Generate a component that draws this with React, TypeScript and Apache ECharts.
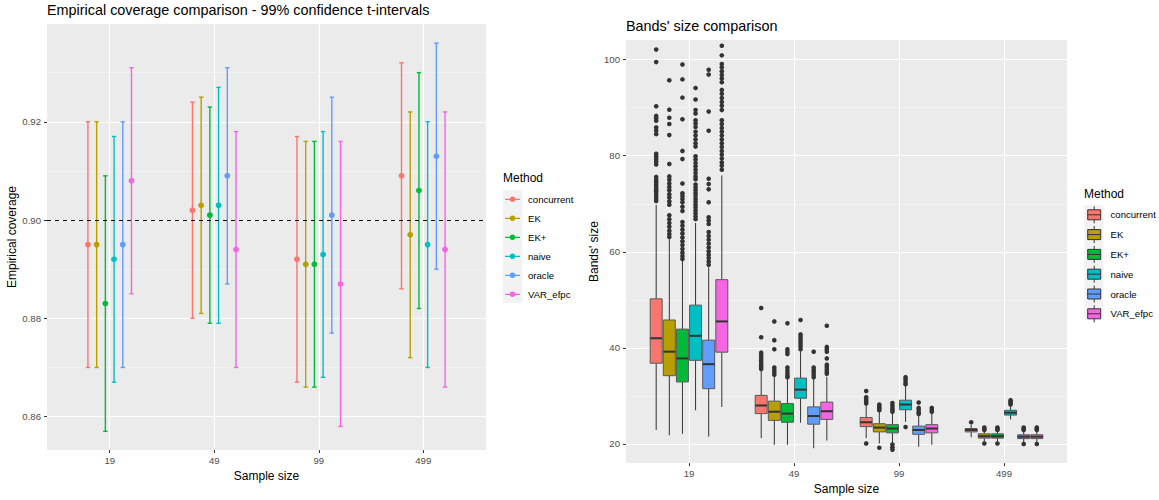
import React, { useEffect, useRef } from "react";
import * as echarts from "echarts";

// ---------- data ----------
const sampleSizes = ["19", "49", "99", "499"];
const methods = ["concurrent", "EK", "EK+", "naive", "oracle", "VAR_efpc"];
const methodColors = ["#F8766D", "#B79F00", "#00BA38", "#00BFC4", "#619CFF", "#F564E3"];

// empirical coverage (rows: methods, cols: sample sizes)
const coverageEstimate = [
  [0.895, 0.902, 0.892, 0.909],
  [0.895, 0.903, 0.891, 0.897],
  [0.883, 0.901, 0.891, 0.906],
  [0.892, 0.903, 0.893, 0.895],
  [0.895, 0.909, 0.901, 0.913],
  [0.908, 0.894, 0.887, 0.894],
];
const coverageLower = [
  [0.87, 0.88, 0.867, 0.886],
  [0.87, 0.881, 0.866, 0.872],
  [0.857, 0.879, 0.866, 0.882],
  [0.867, 0.879, 0.868, 0.87],
  [0.87, 0.887, 0.877, 0.89],
  [0.885, 0.87, 0.858, 0.866],
];
const coverageUpper = [
  [0.92, 0.924, 0.917, 0.932],
  [0.92, 0.925, 0.916, 0.922],
  [0.909, 0.923, 0.916, 0.93],
  [0.917, 0.927, 0.918, 0.92],
  [0.92, 0.931, 0.925, 0.936],
  [0.931, 0.918, 0.916, 0.922],
];
const nominalCoverage = 0.9;
const coverageTicks = [0.86, 0.88, 0.9, 0.92];
const coverageMinorTicks = [0.87, 0.89, 0.91, 0.93];

// bands' size box statistics [min, q1, median, q3, max]
const bandBoxStats = [
  [[22.9, 36.8, 42.0, 50.2, 69.8], [21.2, 26.3, 28.0, 30.1, 35.2], [21.2, 23.6, 24.5, 25.5, 28.0], [21.4, 22.5, 22.9, 23.2, 24.0]],
  [[21.8, 34.2, 39.2, 45.8, 62.6], [19.8, 24.9, 26.7, 28.9, 34.0], [20.1, 22.5, 23.4, 24.2, 26.7], [20.5, 21.2, 21.6, 22.1, 22.7]],
  [[22.1, 32.9, 37.8, 43.9, 58.3], [19.8, 24.5, 26.3, 28.4, 33.5], [20.3, 22.3, 23.2, 24.0, 26.4], [20.5, 21.2, 21.6, 22.1, 22.7]],
  [[27.0, 37.4, 42.5, 48.9, 66.0], [24.4, 29.5, 31.3, 33.7, 39.3], [24.6, 27.1, 28.2, 29.1, 32.0], [25.1, 26.0, 26.5, 27.0, 28.0]],
  [[21.5, 31.5, 36.6, 41.6, 56.8], [19.1, 24.1, 25.8, 27.7, 33.5], [19.4, 22.0, 22.9, 23.7, 26.0], [20.4, 21.1, 21.5, 21.9, 22.7]],
  [[27.7, 39.1, 45.5, 54.2, 75.9], [20.7, 25.1, 26.8, 28.7, 34.0], [19.8, 22.3, 23.2, 24.0, 26.4], [20.4, 21.1, 21.5, 21.9, 22.7]],
];
const bandOutliers = [
  [
    [102.1, 99.5, 90.3, 88.3, 87.8, 87.3, 85.9, 85.2, 84.5, 80.4, 79.9, 79.3, 78.8, 78.2, 75.6, 75.0, 74.5, 74.0, 73.5, 73.0, 72.6, 72.1, 71.6, 71.1, 70.6],
    [48.3, 42.2, 39.0, 38.4, 37.9, 37.4, 36.9, 36.4, 36.0, 35.6],
    [31.0, 29.7, 29.2, 28.8, 28.4, 20.1],
    [24.5],
  ],
  [
    [95.7, 89.6, 87.9, 86.6, 84.3, 78.3, 75.7, 75.0, 74.2, 73.5, 72.8, 72.0, 71.3, 70.5, 69.8, 67.6, 66.8, 66.0, 65.2, 64.4, 63.7, 63.1],
    [45.5, 41.6, 39.7, 35.9, 35.4, 34.9, 34.4],
    [28.2, 27.8, 27.4, 27.0, 19.2],
    [23.4, 23.1, 22.9, 20.1],
  ],
  [
    [99.0, 95.9, 92.1, 87.6, 81.0, 79.3, 74.2, 72.2, 71.6, 71.0, 70.3, 69.4, 68.5, 66.2, 65.4, 64.6, 63.8, 63.0, 62.2, 61.4, 60.6, 59.8, 59.1, 58.5],
    [45.1, 39.7, 39.2, 38.7, 35.9, 35.3, 34.7, 34.2, 33.9],
    [28.5, 28.0, 27.5, 27.1, 26.7, 19.9, 19.3, 18.8],
    [23.4, 23.1, 22.9, 20.1],
  ],
  [
    [94.1, 91.7, 89.5, 88.8, 87.4, 86.7, 86.0, 85.0, 84.2, 83.4, 82.6, 81.9, 79.9, 79.2, 78.5, 77.8, 77.1, 76.4, 75.7, 75.1, 74.0, 73.4, 72.8, 72.2, 71.6, 71.0, 70.4, 69.8, 69.2, 68.6, 68.0, 67.4, 66.8],
    [45.8, 42.8, 42.3, 41.8, 41.3, 40.8, 40.3, 39.7],
    [33.9, 33.4, 32.9, 32.4, 23.5],
    [29.1, 28.8, 28.5, 28.2],
  ],
  [
    [97.9, 96.9, 89.2, 85.2, 75.2, 74.1, 73.0, 70.3, 67.2, 66.5, 65.8, 64.1, 63.3, 62.5, 61.7, 60.9, 60.1, 59.4, 58.7, 58.0, 57.3],
    [39.2, 35.9, 35.4, 34.9, 34.4, 33.9],
    [28.6, 27.5, 27.1, 26.6, 26.2],
    [23.4, 23.1, 22.9, 20.0],
  ],
  [
    [102.9, 100.9, 99.1, 98.4, 97.6, 96.8, 96.1, 95.3, 93.7, 92.9, 92.0, 91.2, 90.4, 89.5, 87.4, 86.6, 85.8, 85.0, 84.2, 83.4, 82.6, 81.8, 81.0, 80.2, 79.4, 78.6, 77.9, 77.1],
    [44.6, 40.2, 39.7, 39.2, 37.8, 36.5, 36.0, 35.5, 35.0, 34.6],
    [27.5, 27.1, 26.7],
    [23.4, 23.1, 22.9, 20.0],
  ],
];
const bandTicks = [20, 40, 60, 80, 100];
const bandMinorTicks = [30, 50, 70, 90];

// ---------- styling helpers ----------
const FONT = "'Liberation Sans', Arial, Helvetica, sans-serif";
const catPositions = sampleSizes.map((_, j) => j + 1);
const dodge = (i: number, width: number) => (i - (methods.length - 1) / 2) * (width / methods.length);

const pointIcon =
  "path://M0 0M18 17M0 7.9H15V9.1H0Z M10.2 8.5A2.7 2.7 0 1 1 4.8 8.5A2.7 2.7 0 1 1 10.2 8.5Z";
const boxIcon = "path://M0 0M18.3 17M7 0V3.5M0.5 3.5H13.5V13.5H0.5Z M0.5 8.5H13.5M7 13.5V17";

function xAxisCfg(gridIndex: number) {
  return {
    gridIndex,
    type: "value",
    min: 0.4,
    max: 4.6,
    axisLine: { show: false },
    axisTick: { show: true, length: 3, lineStyle: { color: "#333333" }, customValues: catPositions },
    axisLabel: {
      customValues: catPositions,
      formatter: (v: number) => sampleSizes[Math.round(v) - 1],
      color: "#4D4D4D",
      fontSize: 9.6,
      margin: 5,
      fontFamily: FONT,
    },
    splitLine: { show: true, lineStyle: { color: "#FFFFFF", width: 1.1 } },
    name: "Sample size",
    nameLocation: "middle",
    nameGap: 15,
    nameTextStyle: { color: "#000", fontSize: 12, fontFamily: FONT, verticalAlign: "top" },
  };
}

function yAxisCfg(gridIndex: number, min: number, max: number, ticks: number[], name: string, fmt: (v: number) => string) {
  return {
    gridIndex,
    type: "value",
    min,
    max,
    axisLine: { show: false },
    axisTick: { show: true, length: 3, lineStyle: { color: "#333333" }, customValues: ticks },
    axisLabel: { customValues: ticks, formatter: fmt, color: "#4D4D4D", fontSize: 9.6, margin: 6, fontFamily: FONT },
    splitLine: { show: true, lineStyle: { color: "#FFFFFF", width: 1.1 } },
    name,
    nameLocation: "middle",
    nameGap: 25,
    nameTextStyle: { color: "#000", fontSize: 12, fontFamily: FONT },
  };
}

function yMinorCfg(gridIndex: number, min: number, max: number, ticks: number[]) {
  return {
    gridIndex,
    type: "value",
    position: "left",
    min,
    max,
    axisLine: { show: false },
    axisTick: { show: false, customValues: ticks },
    axisLabel: { show: false, customValues: ticks },
    splitLine: { show: true, lineStyle: { color: "#F7F7F7", width: 0.6 } },
  };
}

export default function App() {
  const ref = useRef<HTMLDivElement>(null);

  useEffect(() => {
    if (!ref.current) return;
    const chart = echarts.init(ref.current, null, { renderer: "svg" });

    const coverageSeries = methods.map((m, i) => ({
      type: "custom",
      name: m,
      xAxisIndex: 0,
      yAxisIndex: 0,
      itemStyle: { color: methodColors[i] },
      encode: { x: 0, y: [1, 2, 3] },
      data: sampleSizes.map((_, j) => [
        catPositions[j] + dodge(i, 0.5),
        coverageEstimate[i][j],
        coverageLower[i][j],
        coverageUpper[i][j],
      ]),
      renderItem: (params: any, api: any) => {
        const x = api.value(0);
        const p = api.coord([x, api.value(1)]);
        const lo = api.coord([x, api.value(2)]);
        const hi = api.coord([x, api.value(3)]);
        const capL = api.coord([x - 0.021, api.value(2)])[0];
        const capR = api.coord([x + 0.021, api.value(2)])[0];
        const color = methodColors[i];
        const ls = { stroke: color, lineWidth: 1.4 };
        return {
          type: "group",
          children: [
            { type: "line", shape: { x1: p[0], y1: lo[1], x2: p[0], y2: hi[1] }, style: ls },
            { type: "line", shape: { x1: capL, y1: lo[1], x2: capR, y2: lo[1] }, style: ls },
            { type: "line", shape: { x1: capL, y1: hi[1], x2: capR, y2: hi[1] }, style: ls },
            { type: "circle", shape: { cx: p[0], cy: p[1], r: 2.9 }, style: { fill: color } },
          ],
        };
      },
    }));

    const refLine = {
      type: "line",
      name: "nominal",
      xAxisIndex: 0,
      yAxisIndex: 0,
      data: [],
      markLine: {
        silent: true,
        symbol: "none",
        label: { show: false },
        lineStyle: { color: "#000", type: [4, 4], width: 1 },
        data: [{ yAxis: nominalCoverage }],
        z: 10,
      },
    };

    const boxSeries = methods.map((m, i) => ({
      type: "custom",
      name: m,
      xAxisIndex: 1,
      yAxisIndex: 2,
      itemStyle: { color: methodColors[i] },
      encode: { x: 0, y: [1, 2, 3, 4, 5] },
      data: sampleSizes.map((_, j) => [catPositions[j] + dodge(i, 0.75), ...bandBoxStats[i][j]]),
      renderItem: (params: any, api: any) => {
        const x = api.value(0);
        const half = 0.057;
        const cx = api.coord([x, api.value(1)])[0];
        const xl = api.coord([x - half, api.value(1)])[0];
        const xr = api.coord([x + half, api.value(1)])[0];
        const yMin = api.coord([x, api.value(1)])[1];
        const yQ1 = api.coord([x, api.value(2)])[1];
        const yMed = api.coord([x, api.value(3)])[1];
        const yQ3 = api.coord([x, api.value(4)])[1];
        const yMax = api.coord([x, api.value(5)])[1];
        const wl = { stroke: "#333333", lineWidth: 1 };
        return {
          type: "group",
          children: [
            { type: "line", shape: { x1: cx, y1: yQ3, x2: cx, y2: yMax }, style: wl },
            { type: "line", shape: { x1: cx, y1: yQ1, x2: cx, y2: yMin }, style: wl },
            {
              type: "rect",
              shape: { x: xl, y: yQ3, width: xr - xl, height: yQ1 - yQ3 },
              style: { fill: methodColors[i], stroke: "#595959", lineWidth: 1 },
            },
            { type: "line", shape: { x1: xl, y1: yMed, x2: xr, y2: yMed }, style: { stroke: "#333333", lineWidth: 2 } },
          ],
        };
      },
    }));

    const outlierSeries = methods.map((m, i) => ({
      type: "scatter",
      name: m + " outliers",
      xAxisIndex: 1,
      yAxisIndex: 2,
      symbol: "circle",
      symbolSize: 4.6,
      itemStyle: { color: "#333333", opacity: 1 },
      data: sampleSizes.flatMap((_, j) => bandOutliers[i][j].map((v) => [catPositions[j] + dodge(i, 0.75), v])),
    }));

    const textBase = { fontFamily: FONT, color: "#000", fontWeight: "normal" as const };

    chart.setOption({
      animation: false,
      textStyle: { fontFamily: FONT },
      title: [
        {
          text: "Empirical coverage comparison - 99% confidence t-intervals",
          left: 47,
          top: 3,
          padding: 0,
          textStyle: { ...textBase, fontSize: 14.4 },
        },
        { text: "Bands' size comparison", left: 626, top: 18.5, padding: 0, textStyle: { ...textBase, fontSize: 14.4 } },
        { text: "Method", left: 503, top: 172, padding: 0, textStyle: { ...textBase, fontSize: 12 } },
        { text: "Method", left: 1084, top: 188, padding: 0, textStyle: { ...textBase, fontSize: 12 } },
      ],
      graphic: [
        { type: "rect", z: 0, shape: { x: 503, y: 190, width: 19.3, height: 113 }, style: { fill: "#F2F2F2" } },
        { type: "rect", z: 0, shape: { x: 1084.3, y: 205, width: 19, height: 113 }, style: { fill: "#F2F2F2" } },
      ],
      legend: [
        {
          data: methods.map((m) => ({ name: m, icon: pointIcon })),
          orient: "vertical",
          left: 505,
          top: 190.8,
          padding: 0,
          itemWidth: 18,
          itemHeight: 17,
          itemGap: 2,
          selectedMode: false,
          itemStyle: { borderWidth: 0 },
          textStyle: { fontSize: 9.6, color: "#000", fontFamily: FONT },
        },
        {
          data: methods.map((m) => ({ name: m, icon: boxIcon })),
          orient: "vertical",
          left: 1086.7,
          top: 205.8,
          padding: 0,
          itemWidth: 18.3,
          itemHeight: 17,
          itemGap: 1.8,
          selectedMode: false,
          itemStyle: { borderColor: "#333333", borderWidth: 1 },
          textStyle: { fontSize: 9.6, color: "#000", fontFamily: FONT },
        },
      ],
      grid: [
        { left: 47, top: 24, width: 439, height: 426, backgroundColor: "#EBEBEB", show: true, borderWidth: 0 },
        { left: 626, top: 40, width: 441, height: 426.7, backgroundColor: "#EBEBEB", show: true, borderWidth: 0 },
      ],
      xAxis: [xAxisCfg(0), xAxisCfg(1)],
      yAxis: [
        yAxisCfg(0, 0.8532, 0.9399, coverageTicks, "Empirical coverage", (v: number) => v.toFixed(2)),
        yMinorCfg(0, 0.8532, 0.9399, coverageMinorTicks),
        yAxisCfg(1, 16.0, 104.1, bandTicks, "Bands' size", (v: number) => String(Math.round(v))),
        yMinorCfg(1, 16.0, 104.1, bandMinorTicks),
      ],
      series: [...coverageSeries, refLine, ...boxSeries, ...outlierSeries],
    });

    return () => chart.dispose();
  }, []);

  return (
    <div
      ref={ref}
      style={{ position: "absolute", left: 0, top: 0, width: 1159, height: 500, background: "#FFFFFF" }}
    />
  );
}
